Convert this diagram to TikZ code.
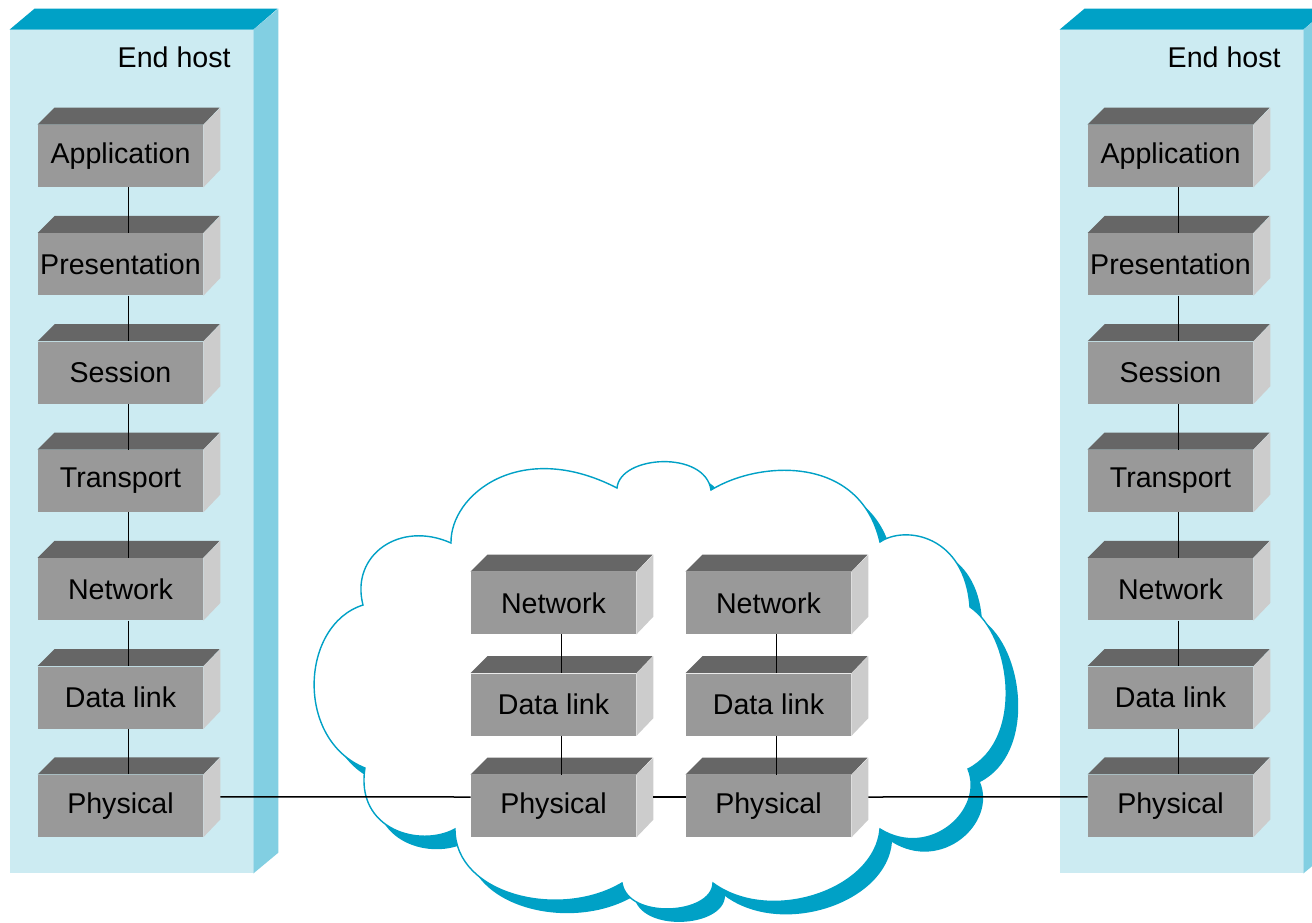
\documentclass[tikz,border=0pt]{standalone}
\usepackage{fontspec}
\setmainfont{Liberation Sans}
\usetikzlibrary{positioning}

\definecolor{hostfront}{HTML}{CCEBF2}
\definecolor{hosttop}{HTML}{00A1C6}
\definecolor{hostside}{HTML}{82CFE2}
\definecolor{boxfront}{HTML}{999999}
\definecolor{boxtop}{HTML}{666666}
\definecolor{boxside}{HTML}{CCCCCC}
\definecolor{cloudblue}{HTML}{00A1C6}

\begin{document}
\begin{tikzpicture}[x=0.5pt,y=-0.5pt,node distance=54.15pt,
                    font=\fontsize{14.3}{16}\selectfont,
                    layer/.style={rectangle,fill=boxfront,minimum width=82.5pt,minimum height=31pt,inner sep=0pt},
                    host/.style={rectangle,fill=hostfront,minimum width=121.5pt,minimum height=421.5pt,inner sep=0pt},
                    cloudshadow/.style={fill=cloudblue},
                    cloudbody/.style={fill=white,draw=cloudblue,line width=0.7pt},
                    link/.style={black,line width=0.75pt}]

  \useasboundingbox (0,0) rectangle (1312,922);
  \clip (0,0) rectangle (1312,922);
  \fill[white] (0,0) rectangle (1312,922);

  % end hosts
  \node[host] (lhost) at (131.5,451.5) {};
  \node[host] (rhost) at (1181.5,451.5) {};
  \foreach \h in {lhost,rhost} {
    \fill[hosttop] (\h.north west) -- ++(25,-21) -- ++(243,0) -- (\h.north east) -- cycle;
    \fill[hostside] (\h.north east) -- ++(25,-21) -- ++(0,844) -- (\h.south east) -- cycle;
  }
  \node[anchor=east,inner sep=0pt] (ltitle) at (231,57) {End host};
  \node[anchor=east,inner sep=0pt] (rtitle) at (1281,57) {End host};

  % the network cloud, shadow first
  \foreach \dx/\dy/\sty in {12/13/cloudshadow, 0/0/cloudbody} {
    \path[\sty,shift={(\dx,\dy)}] (363,605)
      .. controls (350,555) and (400,520) .. (451,543)
      .. controls (450,495) and (520,438) .. (617,488)
      .. controls (620,455) and (705,450) .. (711,490)
      .. controls (760,460) and (860,455) .. (880,542)
      .. controls (905,525) and (965,535) .. (970,607)
      .. controls (1012,635) and (1025,740) .. (968,769)
      .. controls (985,810) and (930,860) .. (880,829)
      .. controls (875,890) and (770,925) .. (713,883)
      .. controls (712,915) and (628,920) .. (622,883)
      .. controls (560,920) and (455,895) .. (455,829)
      .. controls (420,848) and (355,830) .. (365,768)
      .. controls (295,740) and (300,625) .. (363,605) -- cycle;
  }

  % left stack
  \node[layer] (lapp) at (120.5,156) {Application};
  \node[layer] (lpres) [below of=lapp] {Presentation};
  \node[layer] (lsess) [below of=lpres] {Session};
  \node[layer] (ltrans) [below of=lsess] {Transport};
  \node[layer] (lnet) [below of=ltrans] {Network};
  \node[layer] (llink) [below of=lnet] {Data link};
  \node[layer] (lphys) [below of=llink] {Physical};

  % right stack
  \node[layer] (rapp) at (1170.5,156) {Application};
  \node[layer] (rpres) [below of=rapp] {Presentation};
  \node[layer] (rsess) [below of=rpres] {Session};
  \node[layer] (rtrans) [below of=rsess] {Transport};
  \node[layer] (rnet) [below of=rtrans] {Network};
  \node[layer] (rlink) [below of=rnet] {Data link};
  \node[layer] (rphys) [below of=rlink] {Physical};

  % routers in the cloud
  \node[layer] (anet) at (553.5,603) {Network};
  \node[layer] (alink) [below of=anet,node distance=50.75pt] {Data link};
  \node[layer] (aphys) [below of=alink,node distance=50.75pt] {Physical};
  \node[layer] (bnet) at (768.5,603) {Network};
  \node[layer] (blink) [below of=bnet,node distance=50.75pt] {Data link};
  \node[layer] (bphys) [below of=blink,node distance=50.75pt] {Physical};

  \foreach \n in {lapp,lpres,lsess,ltrans,lnet,llink,lphys,
                  rapp,rpres,rsess,rtrans,rnet,rlink,rphys,
                  anet,alink,aphys,bnet,blink,bphys} {
    \fill[boxtop] (\n.north west) -- ++(17,-17) -- ++(165,0) -- (\n.north east) -- cycle;
    \fill[boxside] (\n.north east) -- ++(17,-17) -- ++(0,62) -- (\n.south east) -- cycle;
  }

  \foreach \a/\b in {lapp/lpres,lpres/lsess,lsess/ltrans,ltrans/lnet,lnet/llink,llink/lphys,
                     rapp/rpres,rpres/rsess,rsess/rtrans,rtrans/rnet,rnet/rlink,rlink/rphys,
                     anet/alink,alink/aphys,bnet/blink,blink/bphys}
    \draw[link] ([xshift=4pt]\a.south) -- ([xshift=4pt]\b.north);

  \draw[link] ([shift={(17,-9)}]lphys.east) -- ([yshift=4.5pt]aphys.west);
  \draw[link] ([shift={(17,-9)}]aphys.east) -- ([yshift=4.5pt]bphys.west);
  \draw[link] ([shift={(17,-9)}]bphys.east) -- ([yshift=4.5pt]rphys.west);
\end{tikzpicture}
\end{document}
